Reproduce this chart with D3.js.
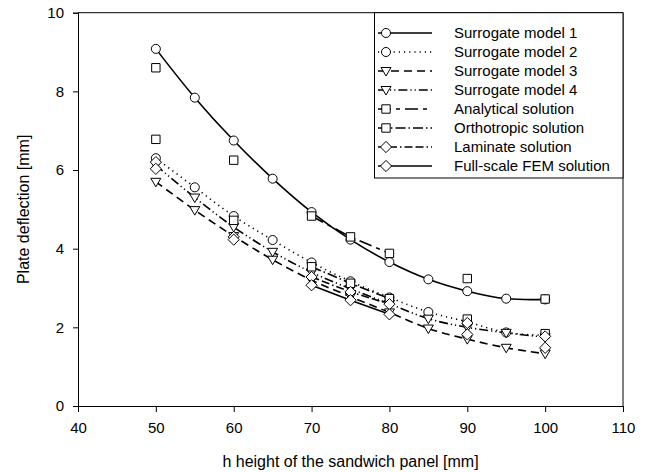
<!DOCTYPE html>
<html>
<head>
<meta charset="utf-8">
<script src="https://cdn.jsdelivr.net/npm/d3@7"></script>
<style>
  body { margin: 0; background: #fff; }
  svg { font-family: "Liberation Sans", Arial, sans-serif; }
</style>
</head>
<body>
<script>
// heights of the panel [mm]
const xs = [50, 55, 60, 65, 70, 75, 80, 85, 90, 95, 100];
// plate deflection [mm], null = no value at that height
const sm1 = [9.08, 7.84, 6.75, 5.78, 4.93, 4.23, 3.66, 3.22, 2.92, 2.73, 2.71];
const sm2 = [6.30, 5.56, 4.83, 4.22, 3.65, 3.17, 2.76, 2.39, 2.14, 1.87, 1.80];
const sm3 = [5.70, 4.98, 4.32, 3.72, 3.20, 2.78, 2.38, 1.97, 1.70, 1.48, 1.33];
const sm4 = [6.12, 5.30, 4.55, 3.92, 3.40, 2.98, 2.60, 2.22, 2.00, 1.86, 1.75];
const analytical = [8.60, null, 6.25, null, 4.83, 4.30, 3.88, null, 3.24, null, 2.72];
const orthotropic = [6.78, null, 4.72, null, 3.54, 3.12, 2.73, null, 2.21, null, 1.84];
const laminate = [6.20, null, 4.30, null, 3.28, 2.90, 2.59, null, 2.11, null, 1.77];
const fem = [6.03, null, 4.23, null, 3.07, 2.69, 2.33, null, 1.82, null, 1.48];

const xTicks = [40, 50, 60, 70, 80, 90, 100, 110];
const yTicks = [0, 2, 4, 6, 8, 10];

const series = [
  {name: 'Surrogate model 1', values: sm1, marker: 'circle', dash: null, smooth: true},
  {name: 'Surrogate model 2', values: sm2, marker: 'circle', dash: '1.2,4', smooth: true},
  {name: 'Surrogate model 3', values: sm3, marker: 'triangle', dash: '8,5', smooth: true},
  {name: 'Surrogate model 4', values: sm4, marker: 'triangle', dash: '9,3,1.2,3,1.2,3', smooth: true},
  {name: 'Analytical solution', values: analytical, marker: 'square', dash: '13,5,4,5', smooth: false},
  {name: 'Orthotropic solution', values: orthotropic, marker: 'square', dash: '10,3,1.5,3', smooth: false},
  {name: 'Laminate solution', values: laminate, marker: 'diamond', dash: '8,3,8,3,1.5,3', smooth: false},
  {name: 'Full-scale FEM solution', values: fem, marker: 'diamond', dash: null, smooth: false}
];

const svg = d3.select('body').append('svg')
  .attr('width', 650)
  .attr('height', 472);

const x = d3.scaleLinear().domain([40, 110]).range([78, 623]);
const y = d3.scaleLinear().domain([0, 10]).range([406, 12.7]);

// frame (top and right)
svg.append('path')
  .attr('d', `M${x(40)},${y(10)}H${x(110)}V${y(0)}`)
  .attr('fill', 'none')
  .attr('stroke', '#000')
  .attr('stroke-width', 1);

let xAxis = svg.append('g')
  .attr('transform', `translate(0,${y(0)})`)
  .call(d3.axisBottom(x).tickValues(xTicks).tickSize(6).tickPadding(10));

let yAxis = svg.append('g')
  .attr('transform', `translate(${x(40)},0)`)
  .call(d3.axisLeft(y).tickValues(yTicks).tickSize(5).tickPadding(9));

svg.selectAll('.tick text')
  .attr('font-size', 15)
  .attr('font-family', '"Liberation Sans", Arial, sans-serif')
  .attr('fill', '#000');
svg.selectAll('.domain, .tick line').attr('stroke', '#000');

svg.append('text')
  .attr('x', (x(40) + x(110)) / 2)
  .attr('y', 467)
  .attr('text-anchor', 'middle')
  .attr('font-size', 16)
  .text('h height of the sandwich panel [mm]');

svg.append('text')
  .attr('transform', `translate(29,${(y(0) + y(10)) / 2}) rotate(-90)`)
  .attr('text-anchor', 'middle')
  .attr('font-size', 16)
  .text('Plate deflection [mm]');

// marker shapes
function markerPath(type) {
  if (type === 'circle') return d3.symbol(d3.symbolCircle, 64)();
  if (type === 'square') return 'M-4.2,-4.2H4.2V4.2H-4.2Z';
  if (type === 'triangle') return 'M-5,-3.5H5L0,5Z';
  return 'M0,-5.6L5.6,0L0,5.6L-5.6,0Z';
}

const plot = svg.append('g');

series.forEach(s => {
  const pts = xs.map((v, i) => [v, s.values[i]]);
  const line = d3.line()
    .defined(d => d[1] !== null)
    .x(d => x(d[0]))
    .y(d => y(d[1]))
    .curve(s.smooth ? d3.curveCatmullRom : d3.curveLinear);
  plot.append('path')
    .datum(pts)
    .attr('d', line)
    .attr('fill', 'none')
    .attr('stroke', '#000')
    .attr('stroke-width', 1.6)
    .attr('stroke-dasharray', s.dash);
});

series.forEach(s => {
  const pts = xs.map((v, i) => [v, s.values[i]]).filter(d => d[1] !== null);
  plot.selectAll(null).data(pts)
    .enter()
    .append('path')
    .attr('d', markerPath(s.marker))
    .attr('transform', d => `translate(${x(d[0])},${y(d[1])})`)
    .attr('fill', '#fff')
    .attr('stroke', '#000')
    .attr('stroke-width', 1);
});

// legend
const legend = svg.append('g');
legend.append('rect')
  .attr('x', 374.5)
  .attr('y', y(10))
  .attr('width', x(110) - 374.5)
  .attr('height', 178 - y(10))
  .attr('fill', '#fff')
  .attr('stroke', '#000')
  .attr('stroke-width', 1);

series.forEach((s, i) => {
  const ly = 33 + i * 19;
  legend.append('line')
    .attr('x1', 378).attr('x2', 432)
    .attr('y1', ly).attr('y2', ly)
    .attr('stroke', '#000')
    .attr('stroke-width', 1.6)
    .attr('stroke-dasharray', s.dash);
  legend.append('path')
    .attr('d', markerPath(s.marker))
    .attr('transform', `translate(386,${ly})`)
    .attr('fill', '#fff')
    .attr('stroke', '#000');
  legend.append('text')
    .attr('x', 454)
    .attr('y', ly + 5)
    .attr('font-size', 15)
    .text(s.name);
});
</script>
</body>
</html>
